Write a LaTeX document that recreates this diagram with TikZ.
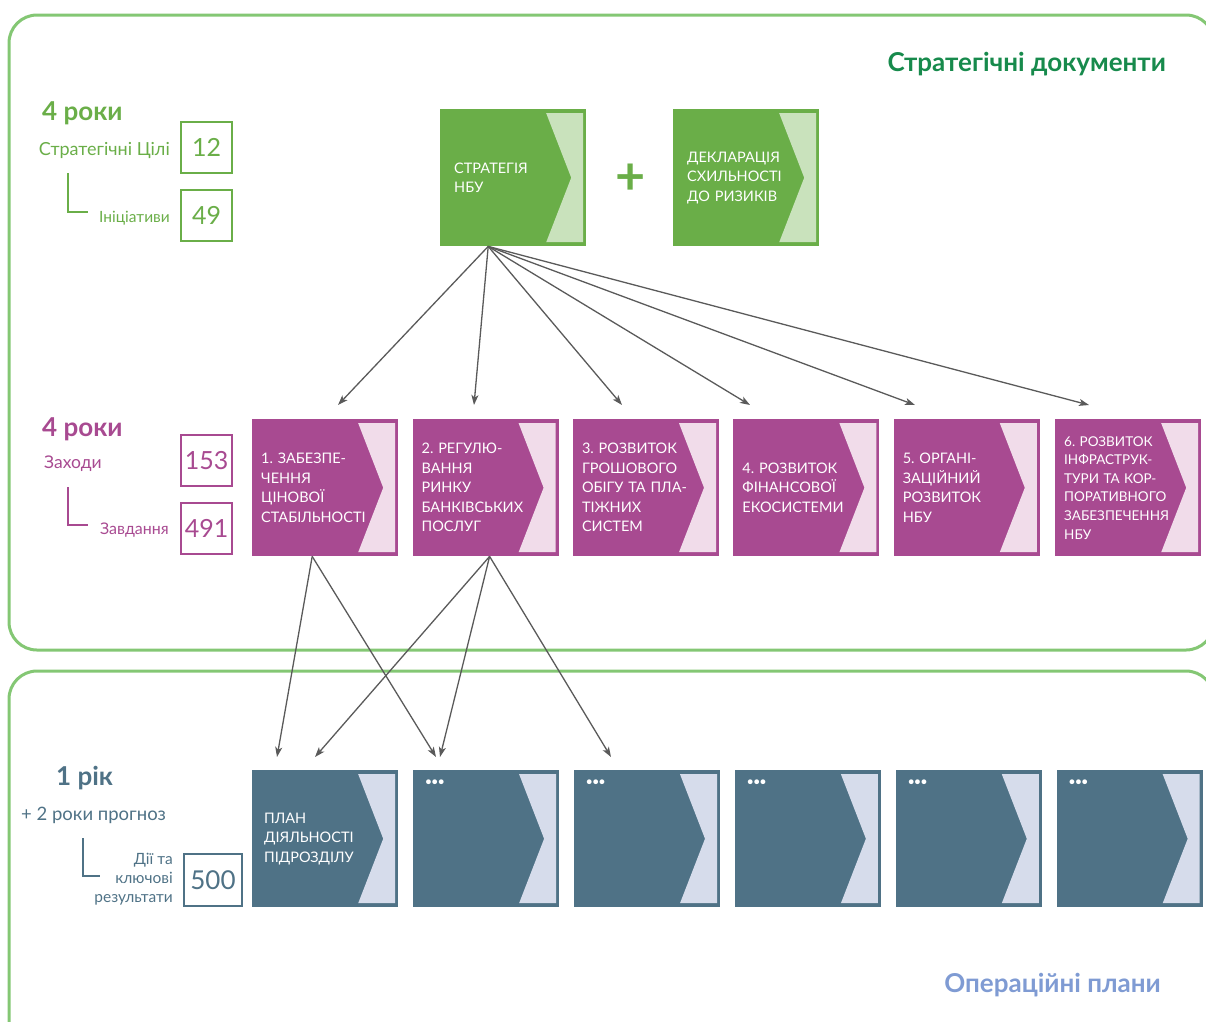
\documentclass[tikz,border=0pt]{standalone}
\usepackage{fontspec}
\setmainfont{Lato}
\usepackage{tikz}
\usetikzlibrary{arrows.meta,positioning,calc}
\definecolor{FrameGreen}{HTML}{84C774}
\definecolor{StratGreen}{HTML}{6AAE48}
\definecolor{StratGreenLight}{HTML}{C9E2BC}
\definecolor{TitleGreen}{HTML}{178A4C}
\definecolor{TaskPurple}{HTML}{A84A91}
\definecolor{TaskPurpleLight}{HTML}{F1DCEA}
\definecolor{PlanSlate}{HTML}{4F7286}
\definecolor{PlanSlateLight}{HTML}{D6DCEB}
\definecolor{PlanBlue}{HTML}{7F9BD3}
\definecolor{LinkGray}{HTML}{5A5A5A}
\frenchspacing

\begin{document}
\begin{tikzpicture}[x=1pt, y=-1pt, node distance=14pt,
  every node/.style={font=\fontsize{14.5}{19.5}\selectfont},
  chevbox/.style 2 args={rectangle, fill=#1, text=white, align=left,
    minimum width=146pt, minimum height=137pt, inner ysep=0pt,
    path picture={\fill[#2] ($(path picture bounding box.north east)+(-40,4)$)
      -- ($(path picture bounding box.north east)+(-3,4)$)
      -- ($(path picture bounding box.south east)+(-3,-4)$)
      -- ($(path picture bounding box.south east)+(-40,-4)$)
      -- ($(path picture bounding box.east)+(-15,0)$) -- cycle;}},
  greenbox/.style={chevbox={StratGreen}{StratGreenLight}, text width=118pt, inner xsep=14pt},
  measbox/.style={chevbox={TaskPurple}{TaskPurpleLight}, text width=128pt, inner xsep=9pt},
  planbox/.style={chevbox={PlanSlate}{PlanSlateLight}, text width=122pt, inner xsep=12pt},
  numbox/.style={draw=#1, text=#1, fill=white, line width=2.5pt, minimum size=51pt,
    inner sep=0pt, font=\fontsize{25}{25}\selectfont},
  lbl/.style={text=#1, inner sep=0pt},
  yearlbl/.style={text=#1, inner sep=0pt, font=\fontsize{26}{26}\bfseries\selectfont},
  link/.style={draw=LinkGray, line width=1.3pt, -{Stealth[length=10pt,width=7pt,inset=2.5pt]}},
  dotmark/.style={text=white, inner sep=0pt, font=\fontsize{11}{11}\bfseries\selectfont}]

  \useasboundingbox (0,0) rectangle (1206,1021);
  \clip (0,0) rectangle (1206,1021);

  % frames
  \draw[FrameGreen, line width=3pt, rounded corners=28pt] (9,15) rectangle (1214,650);
  \draw[FrameGreen, line width=3pt, rounded corners=28pt] (9,671) rectangle (1214,1060);
  \node[anchor=base east, inner sep=0pt, text=TitleGreen, font=\fontsize{26}{26}\bfseries\selectfont] (doctitle) at (1166,71) {Стратегічні документи};
  \node[anchor=base east, inner sep=0pt, text=PlanBlue, font=\fontsize{26}{26}\bfseries\selectfont] (plantitle) at (1161,992) {Операційні плани};

  % strategy level
  \node[yearlbl=StratGreen, anchor=base west] (yrs1) at (42,120) {4 роки};
  \node[lbl=StratGreen, anchor=base east, font=\fontsize{18}{18}\selectfont] (goalslbl) at (170,155) {Стратегічні Цілі};
  \node[lbl=StratGreen, anchor=base east, font=\fontsize{15.5}{15.5}\selectfont] (initlbl) at (170,222) {Ініціативи};
  \node[numbox=StratGreen] (goals) at (206.5,147.5) {12};
  \node[numbox=StratGreen] (inits) at (206.5,215.5) {49};
  \draw[StratGreen, line width=2.5pt] (68,173) |- (88,212);

  \node[greenbox, anchor=north west] (strat) at (440,109) {СТРАТЕГІЯ\\НБУ};
  \node[greenbox, anchor=north west] (decl) at (673,109) {ДЕКЛАРАЦІЯ\\СХИЛЬНОСТІ\\ДО РИЗИКІВ};
  \node[text=StratGreen, inner sep=0pt, font=\fontsize{52}{52}\bfseries\selectfont] (plus) at ($(strat.east)!0.5!(decl.west)+(1,2)$) {+};

  % measures level
  \node[yearlbl=TaskPurple, anchor=base west] (yrs2) at (42,436) {4 роки};
  \node[lbl=TaskPurple, anchor=base west, font=\fontsize{17.5}{17.5}\selectfont] (measlbl) at (44,468) {Заходи};
  \node[lbl=TaskPurple, anchor=base east, font=\fontsize{16}{16}\selectfont] (tasklbl) at (169,534) {Завдання};
  \node[numbox=TaskPurple] (meas) at (206.5,460.5) {153};
  \node[numbox=TaskPurple] (tasks) at (206.5,528.5) {491};
  \draw[TaskPurple, line width=2.5pt] (68,487) |- (88,525);

  \node[measbox, anchor=north west] (m1) at (252,419) {1. ЗАБЕЗПЕ-\\ЧЕННЯ\\ЦІНОВОЇ\\СТАБІЛЬНОСТІ};
  \node[measbox, right=of m1] (m2) {2. РЕГУЛЮ-\\ВАННЯ\\РИНКУ\\БАНКІВСЬКИХ\\ПОСЛУГ};
  \node[measbox, right=of m2] (m3) {3. РОЗВИТОК\\ГРОШОВОГО\\ОБІГУ ТА ПЛА-\\ТІЖНИХ\\СИСТЕМ};
  \node[measbox, right=of m3] (m4) {4. РОЗВИТОК\\ФІНАНСОВОЇ\\ЕКОСИСТЕМИ};
  \node[measbox, right=of m4] (m5) {5. ОРГАНІ-\\ЗАЦІЙНИЙ\\РОЗВИТОК\\НБУ};
  \node[measbox, right=15pt of m5, font=\fontsize{13.5}{18.6}\selectfont] (m6) {6. РОЗВИТОК\\ІНФРАСТРУК-\\ТУРИ ТА КОР-\\ПОРАТИВНОГО\\ЗАБЕЗПЕЧЕННЯ\\НБУ};

  % plans level
  \node[yearlbl=PlanSlate, anchor=base west] (yrs3) at (56,785) {1 рік};
  \node[lbl=PlanSlate, anchor=base west, font=\fontsize{18.5}{18.5}\selectfont] (fcstlbl) at (21,820) {+ 2 роки прогноз};
  \node[lbl=PlanSlate, anchor=east, align=right, font=\fontsize{15.5}{19}\selectfont] (actlbl) at (173,879) {Дії та\\ключові\\результати};
  \node[numbox=PlanSlate, line width=2pt, minimum width=58pt, minimum height=52pt, font=\fontsize{26}{26}\selectfont] (acts) at (213,880) {500};
  \draw[PlanSlate, line width=2.5pt] (83,838) |- (100,876);

  \node[planbox, anchor=north west] (o1) at (252,770) {ПЛАН\\ДІЯЛЬНОСТІ\\ПІДРОЗДІЛУ};
  \node[planbox, right=14.5pt of o1] (o2) {};
  \node[planbox, right=14.5pt of o2] (o3) {};
  \node[planbox, right=14.5pt of o3] (o4) {};
  \node[planbox, right=14.5pt of o4] (o5) {};
  \node[planbox, right=14.5pt of o5] (o6) {};
  \node[dotmark] (o2dots) at ($(o2.north west)+(22,13)$) {•••};
  \node[dotmark] (o3dots) at ($(o3.north west)+(22,13)$) {•••};
  \node[dotmark] (o4dots) at ($(o4.north west)+(22,13)$) {•••};
  \node[dotmark] (o5dots) at ($(o5.north west)+(22,13)$) {•••};
  \node[dotmark] (o6dots) at ($(o6.north west)+(22,13)$) {•••};

  % links
  \coordinate (sfoot) at ($(strat.south)+(-25,0)$);
  \coordinate (m1foot) at ($(m1.south)+(-13,0)$);
  \coordinate (m2foot) at ($(m2.south)+(4,0)$);
  \coordinate (t1) at (338,405);
  \coordinate (t2) at (474,405);
  \coordinate (t3) at (622,405);
  \coordinate (t4) at (750,405);
  \coordinate (t5) at (915,405);
  \coordinate (t6) at (1089,405);
  \coordinate (b1) at (277,757);
  \coordinate (b2) at (315,757);
  \coordinate (b3) at (436,757);
  \coordinate (b4) at (440,757);
  \coordinate (b5) at (611,757);
  \draw[link] (sfoot) -- (t1);
  \draw[link] (sfoot) -- (t2);
  \draw[link] (sfoot) -- (t3);
  \draw[link] (sfoot) -- (t4);
  \draw[link] (sfoot) -- (t5);
  \draw[link] (sfoot) -- (t6);
  \draw[link] (m1foot) -- (b1);
  \draw[link] (m1foot) -- (b3);
  \draw[link] (m2foot) -- (b2);
  \draw[link] (m2foot) -- (b4);
  \draw[link] (m2foot) -- (b5);
\end{tikzpicture}
\end{document}
